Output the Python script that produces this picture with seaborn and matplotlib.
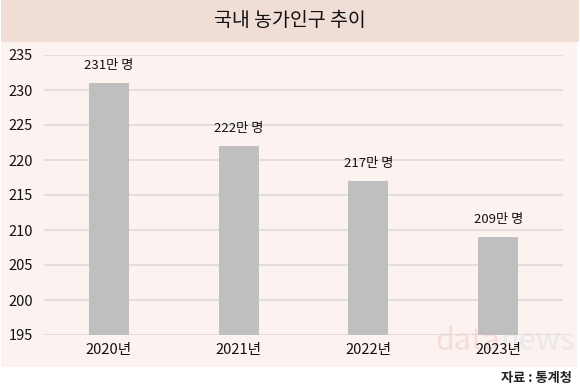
import matplotlib
matplotlib.use("Agg")
import matplotlib.pyplot as plt
import seaborn as sns
import pandas as pd
from matplotlib.patches import Rectangle

years = ["2020년", "2021년", "2022년", "2023년"]
population = [231, 222, 217, 209]
bar_labels = ["231만 명", "222만 명", "217만 명", "209만 명"]
yticks = [195, 200, 205, 210, 215, 220, 225, 230, 235]

sns.set_theme(style="white")
plt.rcParams["font.family"] = ["Noto Sans CJK KR", "DejaVu Sans"]

df = pd.DataFrame({"year": years, "pop": population})

W, H = 580, 392
fig = plt.figure(figsize=(W / 100, H / 100), dpi=100)
fig.patch.set_facecolor("white")

# background panel and title band
fig.patches.append(Rectangle((1 / W, (H - 367) / H), 576 / W, 325 / H,
                             transform=fig.transFigure, facecolor="#fcf3f0",
                             edgecolor="none", zorder=-2))
fig.patches.append(Rectangle((1 / W, (H - 42) / H), 578 / W, 42 / H,
                             transform=fig.transFigure, facecolor="#f0ddd6",
                             edgecolor="none", zorder=-2))
fig.text(290 / W, 1 - 20 / H, "국내 농가인구 추이", ha="center", va="center",
         fontsize=14, fontweight="medium", color="#111111")

# watermark
fig.text(500 / W, 1 - 342 / H, "data", fontsize=22, color="#f5dcd8",
         ha="right", va="center", zorder=-1)
fig.text(500 / W, 1 - 342 / H, "news", fontsize=22, color="#ebe8ec",
         ha="left", va="center", zorder=-1)

ax = fig.add_axes([44 / W, (H - 335) / H, (563 - 44) / W, (335 - 55) / H])
ax.set_facecolor("none")
sns.barplot(data=df, x="year", y="pop", color="#bfbfbf", width=0.31,
            saturation=1, linewidth=0, ax=ax, zorder=3)
ax.set_ylim(195, 235)
ax.set_xlim(-0.5, 3.5)
ax.set_yticks(yticks)
ax.grid(axis="y", color="#e2dedb", linewidth=1.5, zorder=0)
ax.set_axisbelow(True)
for s in ax.spines.values():
    s.set_visible(False)
ax.set_xlabel("")
ax.set_ylabel("")
ax.tick_params(axis="both", length=0, labelsize=10.5, colors="#111111")
ax.tick_params(axis="y", pad=8)
ax.tick_params(axis="x", pad=6)
for t in ax.get_xticklabels() + ax.get_yticklabels():
    t.set_fontweight("medium")

for i, (v, lab) in enumerate(zip(population, bar_labels)):
    ax.annotate(lab, (i, v), xytext=(0, 8), textcoords="offset points",
                ha="center", va="bottom", fontsize=9.5, fontweight="medium",
                color="#111111")

fig.text(572 / W, 1 - 378 / H, "자료 : 통계청", ha="right", va="center",
         fontsize=9.5, fontweight="bold", color="#222222")

fig.savefig("out.png", dpi=100)
